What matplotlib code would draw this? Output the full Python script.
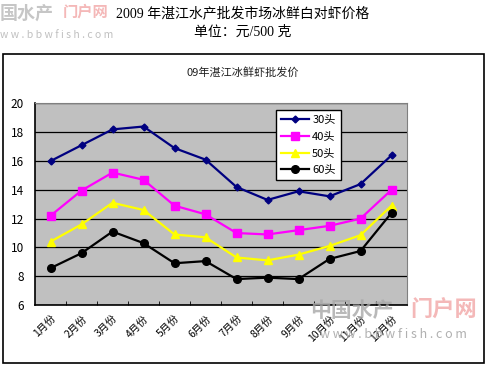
import matplotlib
matplotlib.use("Agg")
import matplotlib.pyplot as plt
from matplotlib.patches import Rectangle

plt.rcParams['font.family'] = ['Noto Sans CJK SC', 'DejaVu Sans']

# data
months = ["1月份", "2月份", "3月份", "4月份", "5月份", "6月份",
          "7月份", "8月份", "9月份", "10月份", "11月份", "12月份"]
s30 = [16.0, 17.1, 18.2, 18.4, 16.9, 16.1, 14.2, 13.3, 13.9, 13.55, 14.4, 16.4]
s40 = [12.2, 13.95, 15.2, 14.7, 12.9, 12.3, 11.0, 10.9, 11.2, 11.5, 12.0, 14.0]
s50 = [10.4, 11.6, 13.1, 12.6, 10.9, 10.7, 9.3, 9.1, 9.5, 10.1, 10.85, 12.9]
s60 = [8.56, 9.6, 11.1, 10.3, 8.9, 9.05, 7.8, 7.9, 7.8, 9.2, 9.75, 12.4]
series_names = ["30头", "40头", "50头", "60头"]

fig = plt.figure(figsize=(5, 3.74), dpi=100)
fig.patch.set_facecolor("white")

# watermarks (top-left, partly cut off in the source)
fig.text(0.0, 0.99, "国水产", color="#b8b8b8", fontsize=13, fontweight="bold",
         va="top", ha="left", alpha=0.8)
fig.text(0.125, 0.99, "门户网", color="#f2a6a6", fontsize=11, fontweight="bold",
         va="top", ha="left", alpha=0.8)
fig.text(0.0, 0.92, "w w . b b w f i s h . c o m", color="#c0c0c0", fontsize=7.5,
         va="top", ha="left")

# titles
fig.text(0.486, 0.965, "2009 年湛江水产批发市场冰鲜白对虾价格", fontsize=10,
         family=['Liberation Serif', 'Noto Sans CJK SC'], ha="center", va="center")
fig.text(0.486, 0.913, "单位：元/500 克", fontsize=10,
         family=['Liberation Serif', 'Noto Sans CJK SC'], ha="center", va="center")

# outer chart border
fig.patches.append(Rectangle((0.006, 0.029), 0.961, 0.826, transform=fig.transFigure,
                             fill=False, edgecolor="black", linewidth=1.2, zorder=0))
fig.text(0.486, 0.807, "09年湛江冰鲜虾批发价", fontsize=8, ha="center", va="center",
         color="#202020")

ax = fig.add_axes([0.07, 0.1845, 0.744, 0.5388])
ax.set_facecolor("#c0c0c0")
x = list(range(len(months)))

ax.plot(x, s30, color="#000080", marker="D", markersize=3.5, linewidth=1.6, label=series_names[0])
ax.plot(x, s40, color="#ff00ff", marker="s", markersize=5.5, linewidth=1.6, label=series_names[1])
ax.plot(x, s50, color="#ffff00", marker="^", markersize=6, linewidth=1.6, label=series_names[2])
ax.plot(x, s60, color="#000000", marker="o", markersize=5.5, linewidth=1.6, label=series_names[3])

ax.set_ylim(6, 20)
ax.set_yticks([6, 8, 10, 12, 14, 16, 18, 20])
ax.set_xlim(-0.5, 11.5)
ax.set_xticks(x)
ax.set_xticklabels(months, rotation=45, ha="right", rotation_mode="anchor", fontsize=7.5)
ax.set_xticks([i + 0.5 for i in range(11)], minor=True)
ax.tick_params(axis="x", which="major", length=0, pad=6)
ax.tick_params(axis="x", which="minor", direction="in", length=3, color="black")
ax.tick_params(axis="y", length=0, labelsize=8.5, pad=8)
ax.yaxis.grid(True, color="black", linewidth=0.9)
ax.set_axisbelow(True)
for side in ["top", "right"]:
    ax.spines[side].set_color("#808080")
for side in ["left", "bottom"]:
    ax.spines[side].set_color("black")
    ax.spines[side].set_linewidth(1.2)

leg = ax.legend(loc="upper left", bbox_to_anchor=(0.648, 0.968), fontsize=8,
                frameon=True, fancybox=False, framealpha=1, edgecolor="black",
                handlelength=2.5, borderpad=0.45, labelspacing=0.6, handletextpad=0.3,
                borderaxespad=0)
leg.get_frame().set_linewidth(1.0)

# bottom-right watermark
fig.text(0.62, 0.17, "中国水产", color="#a8a8a8", fontsize=15, fontweight="bold",
         va="center", ha="left", alpha=0.8)
fig.text(0.82, 0.17, "门户网", color="#f2a6a6", fontsize=16, fontweight="bold",
         va="center", ha="left", alpha=0.8)
fig.text(0.64, 0.105, "w w w . b b w f i s h . c o m", color="#b0b0b0", fontsize=9,
         va="center", ha="left")

fig.savefig("out.png", dpi=100)
